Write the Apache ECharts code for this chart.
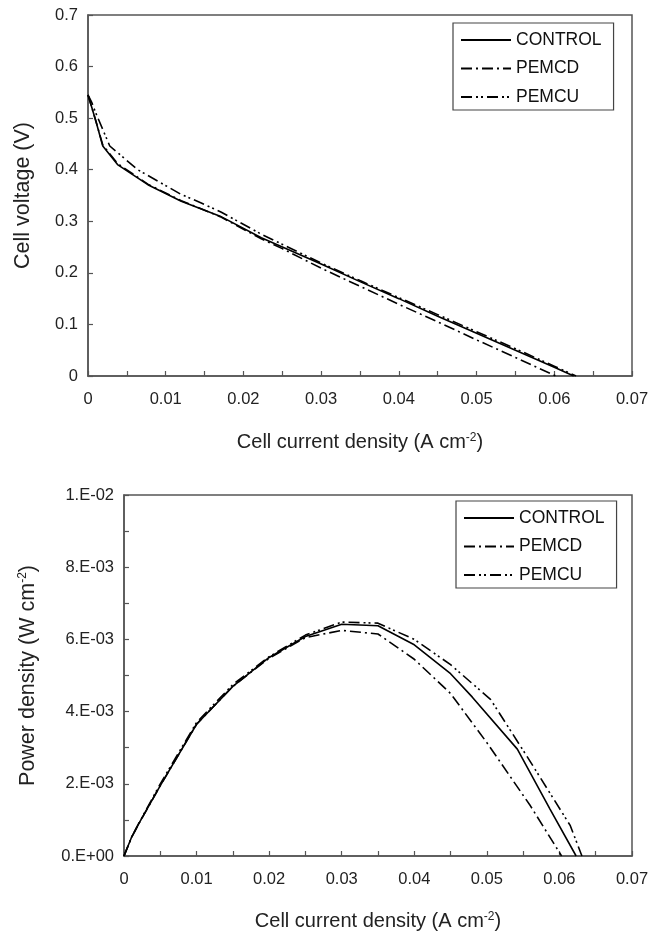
<!DOCTYPE html>
<html>
<head>
<meta charset="utf-8">
<script src="https://cdn.jsdelivr.net/npm/echarts@6/dist/echarts.min.js"></script>
<style>html,body{margin:0;padding:0;background:#fff}#c{width:661px;height:932px}</style>
</head>
<body>
<div id="c"></div>
<script>
// ---- Top panel: cell voltage vs current density ----
var ctrlVI = [0, 0.0005, 0.001, 0.0019, 0.0038, 0.0077, 0.012, 0.017, 0.0223, 0.03, 0.035, 0.04, 0.045, 0.05, 0.055, 0.06, 0.0625];
var ctrlV  = [0.545, 0.52, 0.495, 0.446, 0.410, 0.371, 0.339, 0.310, 0.268, 0.217, 0.183, 0.150, 0.116, 0.083, 0.050, 0.017, 0];
var pemcdVI = [0, 0.0005, 0.001, 0.0019, 0.0038, 0.0077, 0.012, 0.017, 0.0223, 0.025, 0.03, 0.035, 0.04, 0.045, 0.05, 0.055, 0.0602];
var pemcdV  = [0.545, 0.52, 0.495, 0.448, 0.412, 0.372, 0.340, 0.309, 0.266, 0.247, 0.209, 0.174, 0.139, 0.105, 0.070, 0.036, 0];
var pemcuVI = [0, 0.0005, 0.001, 0.0028, 0.0064, 0.012, 0.0145, 0.0171, 0.0223, 0.03, 0.035, 0.04, 0.045, 0.05, 0.055, 0.06, 0.0628];
var pemcuV  = [0.545, 0.53, 0.51, 0.446, 0.400, 0.352, 0.336, 0.318, 0.275, 0.219, 0.185, 0.152, 0.119, 0.086, 0.053, 0.019, 0];

// ---- Bottom panel: power density vs current density ----
var ctrlPI = [0, 0.001, 0.002, 0.005, 0.01, 0.015, 0.02, 0.025, 0.03, 0.035, 0.04, 0.045, 0.048, 0.0542, 0.0587, 0.0623];
var ctrlP  = [0, 0.5e-3, 0.88e-3, 1.95e-3, 3.65e-3, 4.7e-3, 5.5e-3, 6.08e-3, 6.42e-3, 6.38e-3, 5.85e-3, 5.05e-3, 4.4e-3, 2.96e-3, 1.3e-3, 0];
var pemcdPI = [0, 0.001, 0.002, 0.005, 0.01, 0.015, 0.02, 0.025, 0.03, 0.035, 0.04, 0.045, 0.05, 0.056, 0.0603];
var pemcdP  = [0, 0.5e-3, 0.88e-3, 1.95e-3, 3.65e-3, 4.7e-3, 5.48e-3, 6.05e-3, 6.25e-3, 6.15e-3, 5.45e-3, 4.5e-3, 3.14e-3, 1.39e-3, 0];
var pemcuPI = [0, 0.001, 0.002, 0.005, 0.01, 0.015, 0.02, 0.025, 0.03, 0.035, 0.04, 0.045, 0.0505, 0.0555, 0.0615, 0.0631];
var pemcuP  = [0, 0.5e-3, 0.89e-3, 2.0e-3, 3.7e-3, 4.75e-3, 5.52e-3, 6.12e-3, 6.48e-3, 6.45e-3, 6.0e-3, 5.3e-3, 4.34e-3, 2.77e-3, 0.84e-3, 0];

var seriesNames = ['CONTROL', 'PEMCD', 'PEMCU'];
var powerTickLabels = ['0.E+00', '2.E-03', '4.E-03', '6.E-03', '8.E-03', '1.E-02'];

function pairs(xs, ys) { return xs.map(function (x, i) { return [x, ys[i]]; }); }

var FONT = 'Liberation Sans, Arial, sans-serif';
var AX = '#555';
var TXT = '#222';
var dashD = [11, 4, 2, 4];
var dashU = [11, 4, 2, 3, 2, 4];

function lineSeries(name, data, xi, yi, dash) {
  return {
    name: name, type: 'line', xAxisIndex: xi, yAxisIndex: yi, data: data,
    symbol: 'none', smooth: false, animation: false,
    lineStyle: { color: '#000', width: 1.6, type: dash || 'solid' },
    itemStyle: { color: '#000' }
  };
}

function axisCommon(nameSize, labelMargin) {
  return {
    axisLine: { show: true, onZero: false, lineStyle: { color: AX, width: 1.5 } },
    axisTick: { show: true, inside: true, length: 5, lineStyle: { color: AX, width: 1.2 } },
    splitLine: { show: false },
    axisLabel: { color: TXT, fontSize: 16.5, fontFamily: FONT, margin: labelMargin },
    nameTextStyle: { color: TXT, fontSize: nameSize, fontFamily: FONT,
      rich: { sup: { fontSize: 12, verticalAlign: 'top', lineHeight: 12, fontFamily: FONT, color: TXT } } }
  };
}

function legend(left, top) {
  return {
    left: left, top: top, orient: 'vertical',
    data: seriesNames,
    itemWidth: 50, itemHeight: 14, itemGap: 10.5,
    padding: [8, 12, 4, 7],
    borderColor: '#444', borderWidth: 1.2,
    itemStyle: { opacity: 0 },
    textStyle: { fontSize: 17.5, lineHeight: 18, fontFamily: FONT, color: '#111' },
    selectedMode: false
  };
}

var x0 = Object.assign(axisCommon(20, 15), {
  type: 'value', gridIndex: 0, min: 0, max: 0.07, interval: 0.01,
  minorTick: { show: true, splitNumber: 2, length: 5, lineStyle: { color: AX, width: 1.2 } },
  name: 'Cell current density (A cm{sup|-2})', nameLocation: 'middle', nameGap: 56
});
var y0 = Object.assign(axisCommon(21.5, 10), {
  type: 'value', gridIndex: 0, min: 0, max: 0.7, interval: 0.1,
  name: 'Cell voltage (V)', nameLocation: 'middle', nameGap: 54, nameRotate: 90
});
var x1 = Object.assign(axisCommon(20, 15), {
  type: 'value', gridIndex: 1, min: 0, max: 0.07, interval: 0.01,
  minorTick: { show: true, splitNumber: 2, length: 5, lineStyle: { color: AX, width: 1.2 } },
  name: 'Cell current density (A cm{sup|-2})', nameLocation: 'middle', nameGap: 55
});
var y1 = Object.assign(axisCommon(21.5, 10), {
  type: 'value', gridIndex: 1, min: 0, max: 0.01, interval: 0.002,
  minorTick: { show: true, splitNumber: 2, length: 5, lineStyle: { color: AX, width: 1.2 } },
  name: 'Power density (W cm{sup|-2})', nameLocation: 'middle', nameGap: 85, nameRotate: 90
});
y1.axisLabel = Object.assign({}, y1.axisLabel, {
  formatter: function (v) { return powerTickLabels[Math.round(v / 0.002)]; }
});

var chart = echarts.init(document.getElementById('c'), null, { renderer: 'canvas' });
chart.setOption({
  backgroundColor: '#fff',
  animation: false,
  grid: [
    { left: 88, top: 15, right: 29, bottom: 556, show: true, borderColor: AX, borderWidth: 1.5, containLabel: false },
    { left: 124, top: 495, right: 29, bottom: 75, show: true, borderColor: AX, borderWidth: 1.5, containLabel: false }
  ],
  legend: [legend(453, 23), legend(456, 501)],
  xAxis: [x0, x1],
  yAxis: [y0, y1],
  series: [
    lineSeries('CONTROL', pairs(ctrlVI, ctrlV), 0, 0),
    lineSeries('PEMCD', pairs(pemcdVI, pemcdV), 0, 0, dashD),
    lineSeries('PEMCU', pairs(pemcuVI, pemcuV), 0, 0, dashU),
    lineSeries('CONTROL', pairs(ctrlPI, ctrlP), 1, 1),
    lineSeries('PEMCD', pairs(pemcdPI, pemcdP), 1, 1, dashD),
    lineSeries('PEMCU', pairs(pemcuPI, pemcuP), 1, 1, dashU)
  ]
});
</script>
</body>
</html>
